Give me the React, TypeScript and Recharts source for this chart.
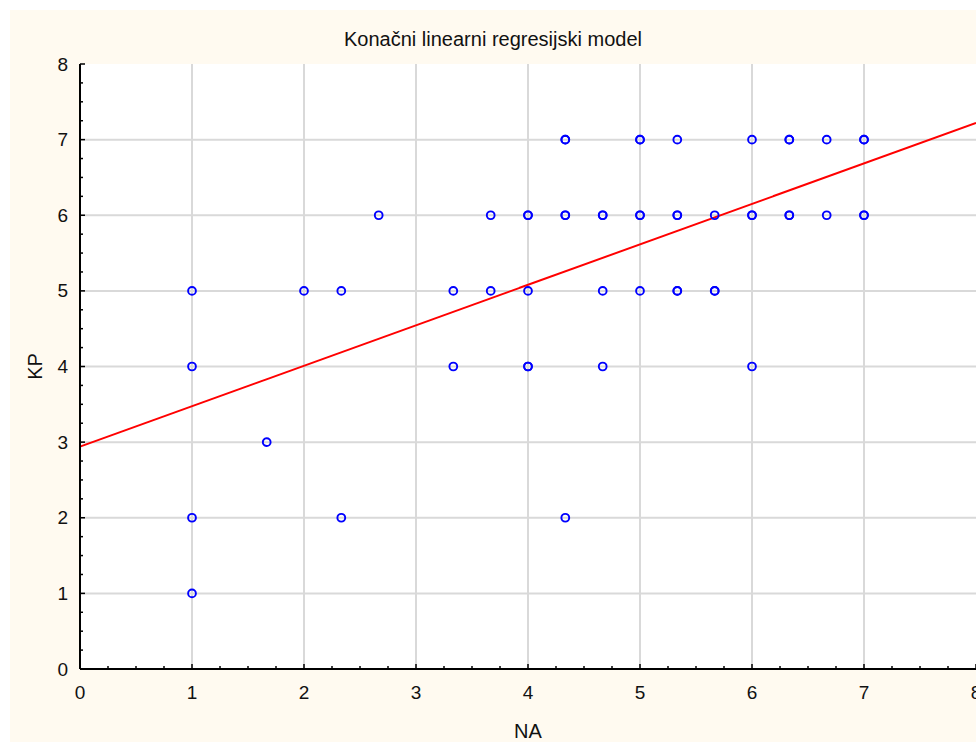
import { CartesianGrid, ComposedChart, ReferenceLine, Scatter, XAxis, YAxis } from 'recharts';

const FONT = "'Liberation Sans', Arial, sans-serif";
const BG = '#FFFAF0';
const GRID = '#d9d9d9';
const POINT = '#0000ff';
const FIT = '#ff0000';

// NA values observed at each KP level (repeated values = overlapping cases)
const kp7 = [4.333, 4.333, 5, 5, 5.333, 6, 6.333, 6.333, 6.667, 7, 7];
const kp6 = [2.667, 3.667, 4, 4, 4.333, 4.333, 4.667, 4.667, 5, 5, 5.333, 5.333, 5.667, 6, 6, 6.333, 6.333, 6.667, 7, 7];
const kp5 = [1, 2, 2.333, 3.333, 3.667, 4, 4.667, 5, 5.333, 5.333, 5.667, 5.667];
const kp4 = [1, 3.333, 4, 4, 4.667, 6];
const kp3 = [1.667];
const kp2 = [1, 2.333, 4.333];
const kp1 = [1];

// fitted line end points (NA, KP)
const fitLine = [
  { x: 0, y: 2.94 },
  { x: 8, y: 7.22 },
];

const majorTicks = [0, 1, 2, 3, 4, 5, 6, 7, 8];
const gridValues = [1, 2, 3, 4, 5, 6, 7];
const allTicks = majorTicks.flatMap((t) => (t < 8 ? [t, t + 0.25, t + 0.5, t + 0.75] : [t]));

const levels: [number, number[]][] = [
  [7, kp7],
  [6, kp6],
  [5, kp5],
  [4, kp4],
  [3, kp3],
  [2, kp2],
  [1, kp1],
];
const points = levels.flatMap(([kp, nas]) => nas.map((na) => ({ na, kp })));

const isMajor = (v: number) => Number.isInteger(v);

const BottomTick = ({ x, y, payload }: any) => (
  <g>
    <line x1={x} x2={x} y1={y} y2={y - (isMajor(payload.value) ? 5 : 3)} stroke="#000" strokeWidth={1.5} />
    {isMajor(payload.value) && (
      <text x={x} y={y + 23} textAnchor="middle" dominantBaseline="central" fontSize={19} fontFamily={FONT} fill="#111">
        {payload.value}
      </text>
    )}
  </g>
);

const TopTick = ({ x, y, payload }: any) => (
  <line x1={x} x2={x} y1={y} y2={y + (isMajor(payload.value) ? 5 : 3)} stroke="#000" strokeWidth={1.5} />
);

const LeftTick = ({ x, y, payload }: any) => (
  <g>
    <line x1={x} x2={x + (isMajor(payload.value) ? 5 : 3)} y1={y} y2={y} stroke="#000" strokeWidth={1.5} />
    {isMajor(payload.value) && (
      <text x={x - 12} y={y} textAnchor="end" dominantBaseline="central" fontSize={19} fontFamily={FONT} fill="#111">
        {payload.value}
      </text>
    )}
  </g>
);

const RightTick = ({ x, y, payload }: any) => (
  <line x1={x} x2={x - (isMajor(payload.value) ? 5 : 3)} y1={y} y2={y} stroke="#000" strokeWidth={1.5} />
);

const Ring = ({ cx, cy }: any) => (
  <circle cx={cx} cy={cy} r={3.9} fill="none" stroke={POINT} strokeWidth={1.9} />
);

const axisLine = { stroke: '#000', strokeWidth: 2 };

export default function App() {
  return (
    <div
      style={{
        position: 'fixed',
        left: 10,
        top: 10,
        width: 966,
        height: 732,
        background: BG,
        fontFamily: FONT,
      }}
    >
      <div
        style={{
          position: 'absolute',
          top: 17,
          left: 0,
          width: '100%',
          textAlign: 'center',
          fontSize: 20,
          lineHeight: '24px',
          color: '#111',
        }}
      >
        Konačni linearni regresijski model
      </div>
      <ComposedChart width={966} height={732} margin={{ top: 54, right: 0, bottom: 0, left: 0 }}>
        <CartesianGrid
          fill="#fff"
          stroke={GRID}
          strokeWidth={2}
          verticalValues={gridValues}
          horizontalValues={gridValues}
        />
        <XAxis
          type="number"
          dataKey="na"
          domain={[0, 8]}
          ticks={allTicks}
          interval={0}
          allowDataOverflow
          height={73}
          tickSize={0}
          tickMargin={0}
          tickLine={false}
          axisLine={axisLine}
          tick={BottomTick}
          label={{
            content: ({ viewBox }: any) => (
              <text
                x={viewBox.x + viewBox.width / 2}
                y={viewBox.y + 62}
                textAnchor="middle"
                dominantBaseline="central"
                fontSize={20}
                fontFamily={FONT}
                fill="#111"
              >
                NA
              </text>
            ),
          }}
        />
        <XAxis
          xAxisId="top"
          orientation="top"
          type="number"
          domain={[0, 8]}
          ticks={allTicks}
          interval={0}
          allowDataOverflow
          height={0}
          tickSize={0}
          tickMargin={0}
          tickLine={false}
          axisLine={axisLine}
          tick={TopTick}
        />
        <YAxis
          type="number"
          dataKey="kp"
          domain={[0, 8]}
          ticks={allTicks}
          interval={0}
          allowDataOverflow
          width={70}
          tickSize={0}
          tickMargin={0}
          tickLine={false}
          axisLine={axisLine}
          tick={LeftTick}
          label={{
            content: ({ viewBox }: any) => {
              const cx = viewBox.x + 25;
              const cy = viewBox.y + viewBox.height / 2;
              return (
                <text
                  x={cx}
                  y={cy}
                  transform={`rotate(-90 ${cx} ${cy})`}
                  textAnchor="middle"
                  dominantBaseline="central"
                  fontSize={20}
                  fontFamily={FONT}
                  fill="#111"
                >
                  KP
                </text>
              );
            },
          }}
        />
        <YAxis
          yAxisId="right"
          orientation="right"
          type="number"
          domain={[0, 8]}
          ticks={allTicks}
          interval={0}
          allowDataOverflow
          width={0}
          tickSize={0}
          tickMargin={0}
          tickLine={false}
          axisLine={axisLine}
          tick={RightTick}
        />
        <ReferenceLine segment={fitLine} stroke={FIT} strokeWidth={2} />
        <Scatter data={points} dataKey="kp" shape={Ring} isAnimationActive={false} />
      </ComposedChart>
    </div>
  );
}
